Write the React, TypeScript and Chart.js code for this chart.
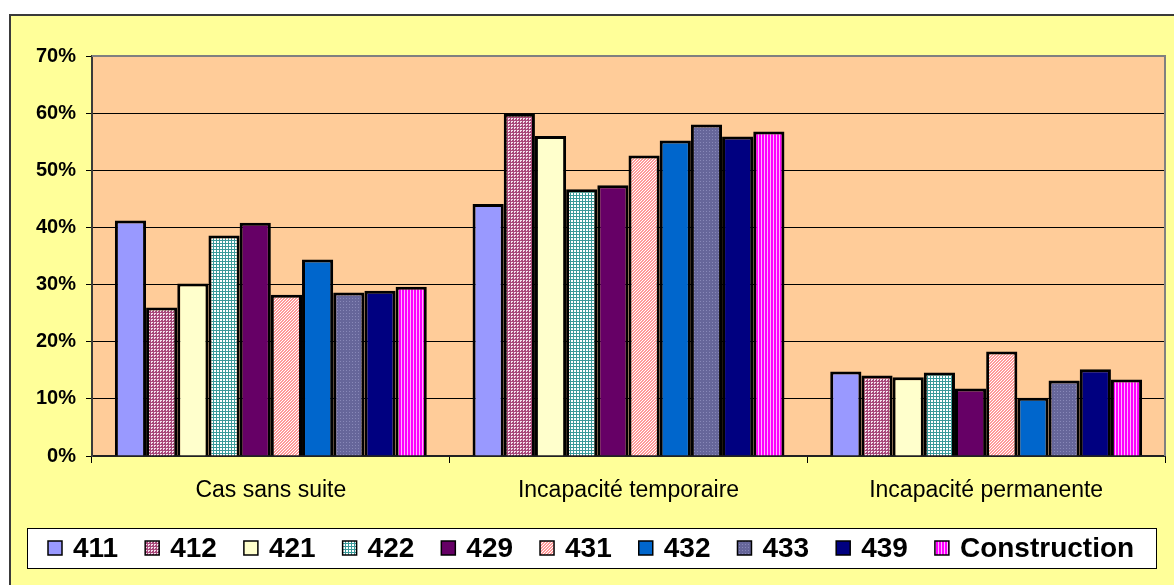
import { useEffect, useRef } from "react";
import { Chart, registerables } from "chart.js";

Chart.register(...registerables);

// Categories and series (share of cases, %)
const categories = ["Cas sans suite", "Incapacité temporaire", "Incapacité permanente"];
const seriesNames = ["411", "412", "421", "422", "429", "431", "432", "433", "439", "Construction"];
const s411 = [41.2, 44.1, 14.8];
const s412 = [26.0, 59.9, 14.1];
const s421 = [30.2, 56.0, 13.8];
const s422 = [38.6, 46.7, 14.6];
const s429 = [40.8, 47.4, 11.8];
const s431 = [28.2, 52.6, 18.3];
const s432 = [34.4, 55.2, 10.2];
const s433 = [28.6, 58.0, 13.2];
const s439 = [28.9, 55.9, 15.2];
const sConstruction = [29.6, 56.8, 13.4];
const seriesValues = [s411, s412, s421, s422, s429, s431, s432, s433, s439, sConstruction];
const yMin = 0;
const yMax = 70;
const yStep = 10;

const FONT = "'Liberation Sans', Arial, Helvetica, sans-serif";

type Fill = string | CanvasPattern;

function tile(w: number, h: number, bg: string, paint: (c: CanvasRenderingContext2D) => void): CanvasPattern | string {
  const cv = document.createElement("canvas");
  cv.width = w;
  cv.height = h;
  const c = cv.getContext("2d");
  if (!c) return bg;
  c.fillStyle = bg;
  c.fillRect(0, 0, w, h);
  paint(c);
  const p = c.createPattern(cv, "repeat");
  return p || bg;
}

function makeFills(): Fill[] {
  const dots412 = tile(3, 3, "#a8487a", (c) => {
    c.fillStyle = "#f4e0ec";
    c.fillRect(1, 1, 2, 1);
    c.fillRect(1, 2, 1, 1);
  });
  const grid422 = tile(3, 3, "#3a9a9a", (c) => {
    c.fillStyle = "#ffffff";
    c.fillRect(1, 1, 2, 2);
  });
  const diag431 = tile(3, 3, "#ffffff", (c) => {
    c.fillStyle = "#ff9999";
    for (let y = 0; y < 3; y++) {
      c.fillRect((2 - y + 3) % 3, y, 1, 1);
      c.fillRect((3 - y) % 3, y, 1, 1);
    }
  });
  const dots433 = tile(3, 3, "#66669a", (c) => {
    c.fillStyle = "#8888b8";
    c.fillRect(1, 1, 1, 1);
  });
  const stripes = tile(3, 1, "#ff00ff", (c) => {
    c.fillStyle = "#ffb3ff";
    c.fillRect(2, 0, 1, 1);
  });
  return ["#9999ff", dots412, "#ffffcc", grid422, "#660066", diag431, "#0066cc", dots433, "#000080", stripes];
}

const framePlugin = {
  id: "frame",
  beforeDraw(chart: any) {
    const { ctx, chartArea: a, width, height } = chart;
    ctx.save();
    ctx.fillStyle = "#ffffff";
    ctx.fillRect(0, 0, width, height);
    // outer yellow panel
    ctx.fillStyle = "#ffff99";
    ctx.fillRect(10, 15, width, height);
    ctx.strokeStyle = "#3a3a3a";
    ctx.lineWidth = 2;
    ctx.beginPath();
    ctx.moveTo(10, height + 2);
    ctx.lineTo(10, 15);
    ctx.lineTo(width + 2, 15);
    ctx.stroke();
    // plot area
    ctx.fillStyle = "#ffcc99";
    ctx.fillRect(a.left, a.top, a.right - a.left, a.bottom - a.top);
    ctx.restore();
  },
  afterDraw(chart: any) {
    const { ctx, chartArea: a } = chart;
    ctx.save();
    // plot border on top and right
    ctx.strokeStyle = "#808080";
    ctx.lineWidth = 2;
    ctx.beginPath();
    ctx.moveTo(a.left, a.top);
    ctx.lineTo(a.right, a.top);
    ctx.lineTo(a.right, a.bottom);
    ctx.stroke();

    // legend box
    const bx = 27, by = 528, bw = 1129, bh = 40;
    ctx.fillStyle = "#ffffff";
    ctx.fillRect(bx, by, bw, bh);
    ctx.strokeStyle = "#000000";
    ctx.lineWidth = 1;
    ctx.strokeRect(bx + 0.5, by + 0.5, bw, bh);

    ctx.font = `bold 28px ${FONT}`;
    ctx.textBaseline = "middle";
    ctx.textAlign = "left";
    const box = 14, gap = 11, pad = 27;
    const datasets = chart.data.datasets;
    const widths = datasets.map((d: any) => ctx.measureText(d.label).width);
    let total = 0;
    widths.forEach((w: number, i: number) => {
      total += box + gap + w + (i > 0 ? pad : 0);
    });
    let x = Math.round(bx + bw / 2 - total / 2);
    const cy = by + bh / 2;
    datasets.forEach((d: any, i: number) => {
      ctx.fillStyle = d.backgroundColor;
      ctx.fillRect(x, cy - box / 2, box, box);
      ctx.strokeStyle = "#000000";
      ctx.lineWidth = 1.5;
      ctx.strokeRect(x, cy - box / 2, box, box);
      ctx.fillStyle = "#000000";
      ctx.fillText(d.label, x + box + gap, cy + 1);
      x += box + gap + widths[i] + pad;
    });
    ctx.restore();
  },
};

export default function App() {
  const ref = useRef<HTMLCanvasElement | null>(null);

  useEffect(() => {
    const canvas = ref.current;
    if (!canvas) return;
    const fills = makeFills();
    const chart = new Chart(canvas, {
      type: "bar",
      data: {
        labels: categories,
        datasets: seriesNames.map((name, i) => ({
          label: name,
          data: seriesValues[i],
          backgroundColor: fills[i] as any,
          borderColor: "#000000",
          borderWidth: 3,
          borderSkipped: "bottom" as any,
          categoryPercentage: 0.872,
          barPercentage: 1,
        })),
      },
      options: {
        responsive: false,
        animation: false,
        events: [],
        layout: { padding: { top: 56, right: 9, left: 0, bottom: 0 } },
        plugins: {
          legend: { display: false },
          title: { display: false },
          tooltip: { enabled: false },
        },
        scales: {
          x: {
            offset: true,
            afterFit: (scale: any) => {
              scale.height = 129;
            },
            grid: {
              offset: true,
              drawOnChartArea: false,
              drawTicks: true,
              tickLength: 7,
              color: "#000000",
              lineWidth: 1,
            },
            border: { display: true, color: "#222222", width: 2 },
            ticks: {
              color: "#000000",
              padding: 14,
              font: { family: FONT, size: 23 },
              maxRotation: 0,
            },
          },
          y: {
            min: yMin,
            max: yMax,
            afterFit: (scale: any) => {
              scale.width = 92;
            },
            grid: {
              color: "#000000",
              lineWidth: 1,
              tickLength: 6,
              drawTicks: true,
            },
            border: { display: true, color: "#3a3a3a", width: 2 },
            ticks: {
              stepSize: yStep,
              color: "#000000",
              padding: 10,
              font: { family: FONT, size: 20, weight: "bold" },
              callback: (v: any) => `${v}%`,
            },
          },
        },
      },
      plugins: [framePlugin],
    });
    return () => chart.destroy();
  }, []);

  return (
    <div style={{ position: "fixed", left: 0, top: 0, width: 1174, height: 585 }}>
      <canvas ref={ref} width={1174} height={585} style={{ display: "block" }} />
    </div>
  );
}
